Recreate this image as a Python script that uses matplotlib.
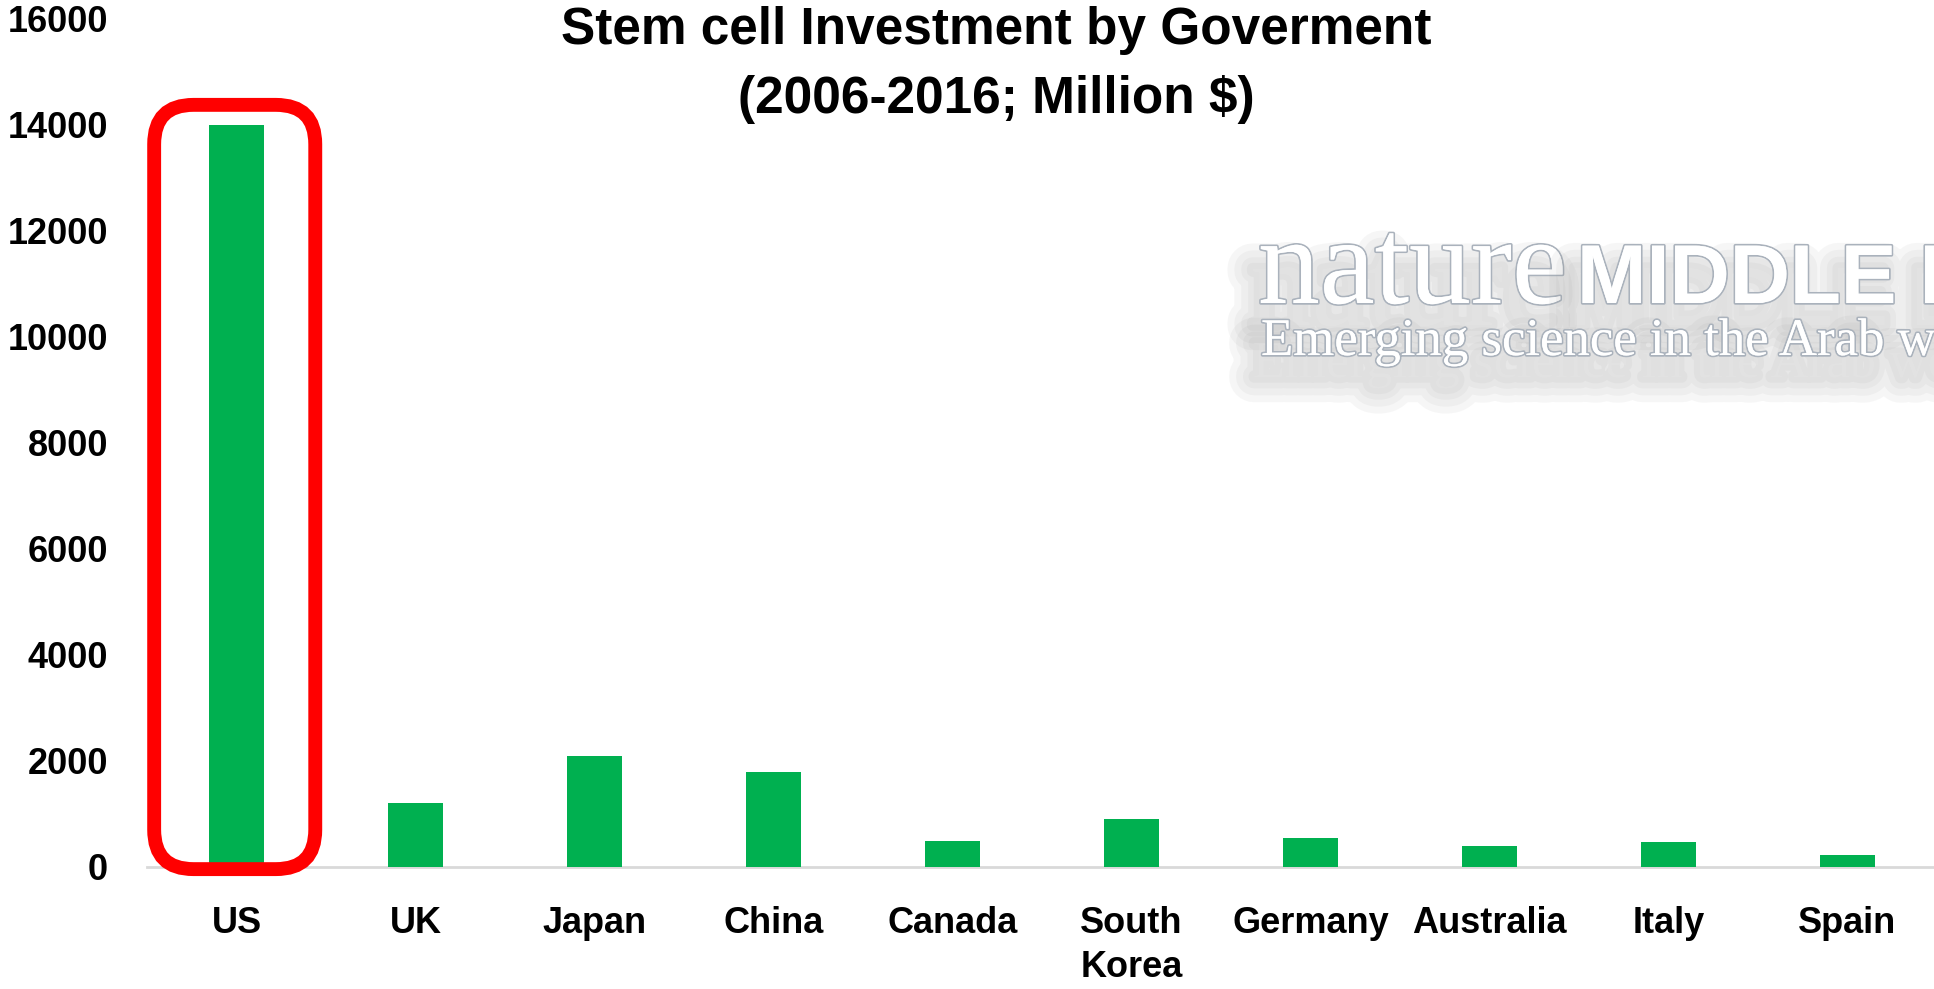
import numpy as np
import matplotlib
matplotlib.use('agg')
import matplotlib.pyplot as plt
from matplotlib.patches import FancyBboxPatch
import matplotlib.patheffects as pe

countries = ['US', 'UK', 'Japan', 'China', 'Canada', 'South\nKorea',
             'Germany', 'Australia', 'Italy', 'Spain']
invest = [14000, 1200, 2100, 1800, 500, 900, 550, 400, 480, 220]
yticks = [0, 2000, 4000, 6000, 8000, 10000, 12000, 14000, 16000]
title1 = 'Stem cell Investment by Goverment'
title2 = '(2006-2016; Million $)'

W, H = 1934, 989
green = '#00B050'
plt.rcParams['font.family'] = ['Liberation Sans', 'DejaVu Sans']

fig = plt.figure(figsize=(W/100, H/100), dpi=100)
ax = fig.add_axes([147/W, 122/H, 1790/W, 848/H])

x = np.arange(len(countries))
ax.bar(x, invest, width=0.31, color=green, zorder=3)
ax.set_xlim(-0.5, len(countries)-0.5)
ax.set_ylim(0, 16000)
ax.set_yticks(yticks)
ax.set_yticklabels([str(v) for v in yticks], fontsize=26, fontweight='bold')
ax.set_xticks(x)
ax.set_xticklabels(countries, fontsize=26, fontweight='bold', linespacing=1.32)
ax.tick_params(axis='y', length=0, pad=28)
ax.tick_params(axis='x', length=0, pad=28)
for s in ['top', 'right', 'left']:
    ax.spines[s].set_visible(False)
ax.spines['bottom'].set_color('#d9d9d9')
ax.spines['bottom'].set_linewidth(2)

# red rounded box around the US bar
bb = ax.get_window_extent()
xspan = ax.get_xlim()[1]-ax.get_xlim()[0]
yspan = ax.get_ylim()[1]-ax.get_ylim()[0]
aspect = (yspan/bb.height)/(xspan/bb.width)
box = FancyBboxPatch((-0.46, -40), 0.90, 14420,
                     boxstyle='round,pad=0,rounding_size=0.22',
                     mutation_aspect=aspect, fill=False, edgecolor='#ff0000',
                     linewidth=10, clip_on=False, zorder=4)
ax.add_patch(box)

fig.text(0.515, 1-44/H, title1, ha='center', va='baseline',
         fontsize=37, fontweight='bold')
fig.text(0.515, 1-113/H, title2, ha='center', va='baseline',
         fontsize=37, fontweight='bold')

# faint publisher logo, runs off the right edge
outline = [pe.withStroke(linewidth=2.5, foreground='#aab2bc'), pe.Normal()]
shadow = [pe.withStroke(linewidth=lw, foreground='#8c8c8c', alpha=0.07,
                        offset=(-6, -16)) for lw in (36, 26, 16, 8)]
logo = [fig.text(1258/W, 1-303/H, 'nature', fontsize=89,
                 family='Liberation Serif', color='white', zorder=1),
        fig.text(1577/W, 1-303/H, 'MIDDLE EAST', fontsize=60,
                 fontweight='bold', color='white', zorder=1),
        fig.text(1261/W, 1-355/H, 'Emerging science in the Arab world',
                 fontsize=38, family='Liberation Serif', color='white',
                 zorder=1)]
for t in logo:
    t.set_path_effects(shadow + outline)

fig.savefig('out.png', dpi=100)
